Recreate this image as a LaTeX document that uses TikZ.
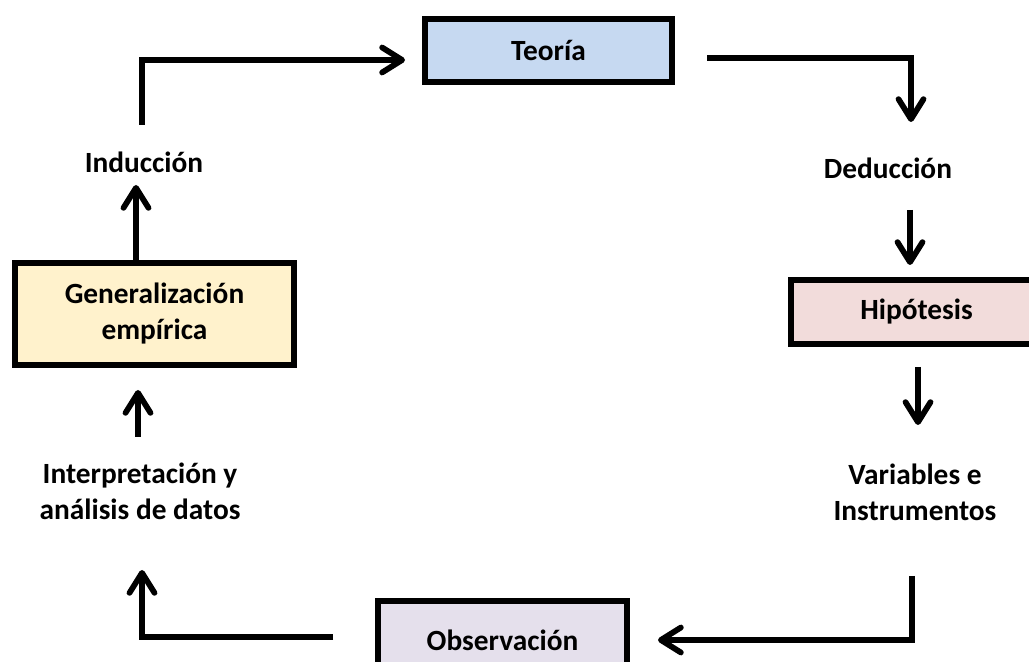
\documentclass[tikz,border=0pt]{standalone}
\usepackage{fontspec}
\setmainfont{Carlito}
\definecolor{teoblue}{HTML}{C6D9F1}
\definecolor{hippink}{HTML}{F2DCDB}
\definecolor{genyellow}{HTML}{FFF2CC}
\definecolor{obslilac}{HTML}{E5E0EC}
\usetikzlibrary{arrows.meta,positioning}

\begin{document}
\begin{tikzpicture}[
    x=0.02cm,y=-0.02cm,
    box/.style={draw,line width=0.125cm,inner sep=0pt,align=center,
                font=\fontsize{16.7}{20.5}\selectfont\bfseries},
    lbl/.style={align=center,inner sep=0pt,
                font=\fontsize{16.7}{20.5}\selectfont\bfseries},
    arr/.style={-{Straight Barb[length=0.4cm,width=0.5cm,line cap=round,line join=round]},
                line width=0.115cm}
  ]
    \useasboundingbox (0,0) rectangle (1029,662);
    % boxes
    \node[box,fill=teoblue,minimum width=4.94cm,minimum height=1.26cm] (teoria) at (548.5,50.5) {Teoría};
    \node[box,fill=hippink,minimum width=5.02cm,minimum height=1.28cm] (hipo) at (916.5,312) {Hipótesis};
    \node[box,fill=genyellow,minimum width=5.58cm,minimum height=2.04cm] (gen) at (154.5,314) {Generalización\\empírica};
    \node[box,fill=obslilac,minimum width=4.98cm,minimum height=1.56cm] (obs) at (502.5,640) {Observación};
    % labels
    \node[lbl] (ind) at (144,162) {Inducción};
    \node[lbl] (ded) at (888,168) {Deducción};
    \node[lbl] (var) at (915,492) {Variables e\\Instrumentos};
    \node[lbl] (interp) at (140,491) {Interpretación y\\análisis de datos};
    % free ends
    \coordinate (a1) at (142,125); \coordinate (a2) at (405,60);
    \coordinate (b1) at (707,58);  \coordinate (b2) at (911,122);
    \coordinate (c1) at (910,210); \coordinate (c2) at (910,265);
    \coordinate (d1) at (918,367); \coordinate (d2) at (918,425);
    \coordinate (e1) at (912,576); \coordinate (e2) at (658,640);
    \coordinate (f1) at (333,637); \coordinate (f2) at (142,570);
    \coordinate (g1) at (138,437); \coordinate (g2) at (138,390);
    \coordinate (h2) at (136,185);
    % arrows
    \draw[arr] (a1) |- (a2);
    \draw[arr] (b1) -| (b2);
    \draw[arr] (c1) -- (c2);
    \draw[arr] (d1) -- (d2);
    \draw[arr] (e1) |- (e2);
    \draw[arr] (f1) -| (f2);
    \draw[arr] (g1) -- (g2);
    \draw[arr] (gen.north -| h2) -- (h2);
\end{tikzpicture}
\end{document}
